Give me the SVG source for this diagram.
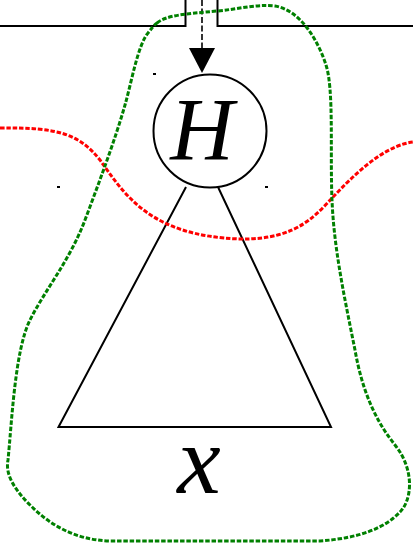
<svg xmlns="http://www.w3.org/2000/svg" width="413" height="546" viewBox="0 0 413 546">
<defs>
<style>
.ln{fill:none;stroke:#000;stroke-width:2}
.math{font-family:"Liberation Serif",serif;font-style:italic;fill:#000}
.gr{fill:none;stroke:#008000;stroke-width:3;stroke-dasharray:4.5 1.8}
.rd{fill:none;stroke:#ff0000;stroke-width:3;stroke-dasharray:4.5 1.8}
.dot{fill:#000}
</style>
</defs>
<rect width="413" height="546" fill="#fff"/>
<g id="frame">
<polyline class="ln" points="0,26 185.5,26 185.5,0"/>
<polyline class="ln" points="217.5,0 217.5,26 413,26"/>
</g>
<g id="connectors">
<line x1="202" y1="0" x2="202" y2="50" stroke="#000" stroke-width="1.6" stroke-dasharray="6 2.5"/>
<polygon points="189,48 215,48 202,73" fill="#000"/>
</g>
<g id="node-H">
<circle cx="210" cy="131" r="56.5" fill="none" stroke="#000" stroke-width="2"/>
<text class="math" x="202" y="159" font-size="88" text-anchor="middle">H</text>
</g>
<g id="node-X">
<polyline class="ln" points="186,187 58.5,427 331,427 218,187"/>
<text class="math" x="199" y="493" font-size="98" text-anchor="middle">x</text>
</g>
<g id="marks">
<rect class="dot" x="153" y="73" width="3" height="2"/>
<rect class="dot" x="57" y="186" width="3" height="2"/>
<rect class="dot" x="265" y="186" width="3" height="2"/>
</g>
<g id="curves">
<path class="rd" d="M0,128 C60,127 80,135 100,160 C125,195 150,236 240,239 C300,240 318,212 335,195 C365,163 390,145 413,142"/>
<path class="gr" d="M157,23 C167,15 185,14 217,11 C240,9 255,4 275,6 C300,10 318,40 326,65 C334,90 330,150 332,200 C334,250 345,300 355,350 C362,390 375,420 395,445 C415,470 412,500 400,512 C385,528 360,538 320,541 L110,541 C75,540 50,525 30,505 C15,490 5,475 8,460 C12,420 15,350 30,320 C45,290 70,260 85,220 C100,180 115,140 125,105 C132,80 138,45 148,33 C152,28 154,25 157,23 Z"/>
</g>
</svg>
